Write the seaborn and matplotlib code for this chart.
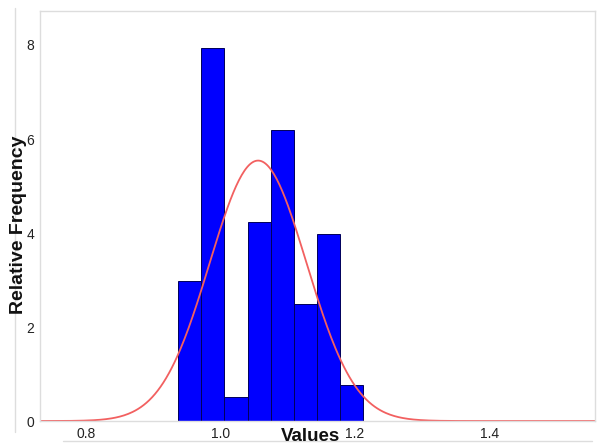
# Histogram of values with fitted normal curve
import numpy as np
import pandas as pd
import matplotlib
matplotlib.use("Agg")
import matplotlib.pyplot as plt
import seaborn as sns
from matplotlib.lines import Line2D

# ==========================================
# Data
# ==========================================
bin_edges = [0.9373, 0.9717, 1.0060, 1.0404, 1.0748, 1.1091, 1.1435, 1.1779, 1.2122]
rel_freq = [2.98, 7.93, 0.52, 4.23, 6.20, 2.49, 3.97, 0.77]

fit_mean = 1.056
fit_sd = 0.072

x_ticks = [0.8, 1.0, 1.2, 1.4]
y_ticks = [0, 2, 4, 6, 8]

# ==========================================
# Style
# ==========================================
sns.set_theme(style="white")
plt.rcParams["font.family"] = ["Liberation Sans", "DejaVu Sans"]

fig = plt.figure(figsize=(6.07, 4.46), dpi=100)
ax = fig.add_axes([0.0659, 0.056, 0.914, 0.919])

# bars drawn from bin centres, weighted with the read heights
centres = [(a + b) / 2 for a, b in zip(bin_edges[:-1], bin_edges[1:])]
df = pd.DataFrame({"value": centres, "weight": rel_freq})

sns.histplot(
    data=df,
    x="value",
    weights="weight",
    bins=bin_edges,
    stat="count",
    color="#0000ff",
    edgecolor="#00005a",
    linewidth=0.7,
    alpha=1.0,
    ax=ax
)

# fitted normal curve
xs = np.linspace(0.73, 1.56, 400)
pdf = np.exp(-0.5 * ((xs - fit_mean) / fit_sd) ** 2) / (fit_sd * np.sqrt(2 * np.pi))
sns.lineplot(x=xs, y=pdf, color="#f26060", linewidth=1.3, ax=ax)

ax.set_xlim(0.7318, 1.5565)
ax.set_ylim(0, 8.72)
ax.set_xticks(x_ticks)
ax.set_xticklabels([f"{t:.1f}" for t in x_ticks])
ax.set_yticks(y_ticks)
ax.tick_params(axis="both", length=0, labelsize=10, colors="#222222", pad=4)

for s in ax.spines.values():
    s.set_color("#dddddd")
    s.set_linewidth(1.0)

ax.set_xlabel("Values", fontsize=13.5, fontweight="bold", color="#111111")
ax.set_ylabel("Relative Frequency", fontsize=14, fontweight="bold", color="#111111")
ax.xaxis.set_label_coords(0.488, -0.016)
ax.yaxis.set_label_coords(-0.024, 0.48)

# outer frame lines seen in the screenshot
fig.add_artist(Line2D([15 / 607, 15 / 607], [1 - 432 / 446, 1 - 8 / 446],
                      color="#dddddd", linewidth=1.0, zorder=0))
fig.add_artist(Line2D([63 / 607, 592 / 607], [1 - 441 / 446, 1 - 441 / 446],
                      color="#dddddd", linewidth=1.0, zorder=0))

fig.savefig("out.png", dpi=100)
